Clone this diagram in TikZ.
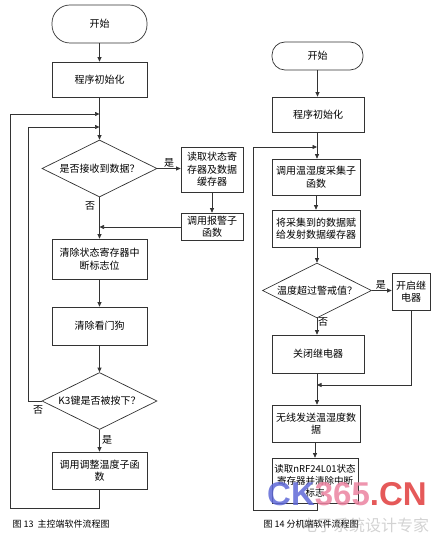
\documentclass[tikz,border=0pt]{standalone}
\usepackage{fontspec}
\setmainfont{Noto Sans CJK SC}
\newfontfamily\wmfont{Liberation Sans}
\usetikzlibrary{shapes.geometric,arrows.meta}
\definecolor{wmblue}{RGB}{95,105,215}
\definecolor{wmpink}{RGB}{235,130,160}
\definecolor{wmred}{RGB}{225,60,60}
\begin{document}
\begin{tikzpicture}[x=1pt,y=-1pt,
  font=\fontsize{10}{12.5}\selectfont,
  line/.style={draw=black!80, line width=0.7pt},
  arr/.style={line, -{Triangle[length=4.5pt,width=4pt]}},
  proc/.style={line, rectangle, inner sep=1pt, align=center},
  term/.style={line, rectangle, rounded corners=13pt, align=center},
  dec/.style={line, diamond, aspect=2, inner sep=0pt, align=center},
  lbl/.style={font=\fontsize{10}{12}\selectfont, inner sep=1pt},
]
\useasboundingbox (0,0) rectangle (436,534);
% ---------- left chart ----------
\node[term, minimum width=95pt, minimum height=38pt, rounded corners=18pt] (s1) at (99.5,24) {开始};
\node[proc, minimum width=95pt, minimum height=35pt] (i1) at (99.5,79.5) {程序初始化};
\node[dec, minimum width=115pt, minimum height=57pt] (d1) at (99.5,168.5) {是否接收到数据？};
\node[proc, minimum width=62pt, minimum height=45pt] (a1) at (212,169.5) {读取状态寄\\存器及数据\\缓存器};
\node[proc, minimum width=62pt, minimum height=27pt] (a2) at (212,226.5) {调用报警子\\函数};
\node[proc, minimum width=95pt, minimum height=40pt] (c1) at (99.5,259) {清除状态寄存器中\\断标志位};
\node[proc, minimum width=95pt, minimum height=38pt] (c2) at (99.5,326) {清除看门狗};
\node[dec, minimum width=115pt, minimum height=57pt] (d2) at (99.5,401) {K3键是否被按下？};
\node[proc, minimum width=95pt, minimum height=37pt] (c3) at (99.5,470.5) {调用调整温度子函\\数};
\coordinate (j1) at (99.5,114);
\coordinate (j2) at (99.5,127);
\coordinate (j5) at (99.5,227);
\coordinate (l1) at (10,114);
\coordinate (l2) at (10,508);
\coordinate (l3) at (99.5,508);
\coordinate (m1) at (28,127);
\coordinate (m2) at (28,401);

\draw[arr] (s1) -- (i1);
\draw[arr] (i1) -- (d1);
\draw[arr] (d1.east) -- node[lbl, above] {是} (d1.east -| a1.west);
\draw[arr] (a1) -- (a2);
\draw[arr] (a2.west |- j5) -- (j5);
\draw[arr] (d1) -- (c1);
\node[lbl] (n1) at (90,206) {否};
\draw[arr] (c1) -- (c2);
\draw[arr] (c2) -- (d2);
\draw[arr] (d2) -- (c3);
\node[lbl] (y2) at (107,440) {是};
\draw[arr] (d2.west) -- (m2) -- (m1) -- (j2);
\node[lbl] (n2) at (38,410) {否};
\draw[arr] (c3.south) -- (l3) -- (l2) -- (l1) -- (j1);
\node[anchor=west, font=\fontsize{9}{11}\selectfont] (cap1) at (9,524) {图 13\ \ 主控端软件流程图};

% ---------- right chart ----------
\node[term, minimum width=91pt, minimum height=28pt] (s2) at (317.5,56) {开始};
\node[proc, minimum width=92pt, minimum height=35pt] (i2) at (318,114.5) {程序初始化};
\node[proc, minimum width=88pt, minimum height=36pt] (r1) at (316,177) {调用温湿度采集子\\函数};
\node[proc, minimum width=88pt, minimum height=37pt] (r2) at (316,228.5) {将采集到的数据赋\\给发射数据缓存器};
\node[dec, minimum width=109pt, minimum height=55pt] (d3) at (317,290.5) {温度超过警戒值？};
\node[proc, minimum width=38pt, minimum height=37pt] (on) at (411,291.5) {开启继\\电器};
\node[proc, minimum width=92pt, minimum height=38pt] (off) at (318,354) {关闭继电器};
\node[proc, minimum width=88pt, minimum height=37pt] (wl) at (316,423.5) {无线发送温湿度数\\据};
\node[proc, minimum width=86pt, minimum height=45pt, font=\fontsize{9.5}{12}\selectfont] (rd) at (315,480.5) {读取nRF24L01状态\\寄存器并清除中断\\标志};
\coordinate (j3) at (317,147);
\coordinate (j4) at (317,385);
\coordinate (k1) at (411,385);
\coordinate (k2) at (317,510);
\coordinate (k3) at (253,510);
\coordinate (k4) at (253,147);

\draw[arr] (s2) -- (s2 |- i2.north);
\draw[arr] (i2.south -| j3) -- (j3 |- r1.north);
\draw[arr] (r1) -- (r2);
\draw[arr] (r2.south -| d3) -- (d3);
\draw[arr] (d3.east) -- node[lbl, above, pos=0.45] {是} (d3.east -| on.west);
\draw[arr] (d3) -- (d3 |- off.north);
\node[lbl] (n3) at (323,322) {否};
\draw[arr] (on.south) -- (k1) -- (j4);
\draw[arr] (off.south -| j4) -- (j4 |- wl.north);
\draw[arr] (wl.south -| rd) -- (rd);
\draw[arr] (rd.south -| k2) -- (k2) -- (k3) -- (k4) -- (j3);
\node[anchor=west, font=\fontsize{9}{11}\selectfont] (cap2) at (260,524) {图 14 分机端软件流程图};

% ---------- watermark ----------
\node[opacity=0.85, font=\wmfont\bfseries\fontsize{33}{33}\selectfont, inner sep=0pt] (wm) at (347,494)
  {\textcolor{wmblue}{CK}\textcolor{wmpink}{365}\textcolor{wmred}{.CN}};
\node[opacity=0.35, text=black!50, font=\fontsize{16}{16}\selectfont, inner sep=0pt] (wm2) at (365,525) {电子系统设计专家};
\end{tikzpicture}
\end{document}
